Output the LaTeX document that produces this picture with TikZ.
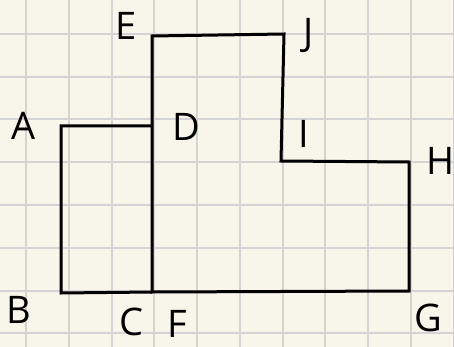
\documentclass[tikz,border=0pt]{standalone}
\usepackage{fontspec}
\setmainfont{Open Sans}
\definecolor{paper}{HTML}{F8F6EA}
\definecolor{gridline}{HTML}{D4D4D4}
\tikzset{
	side/.style={line width=3pt,line join=miter},
	lbl/.style={font=\fontsize{38}{38}\selectfont,inner sep=0pt}
}
\begin{document}
\begin{tikzpicture}[x=1pt,y=-1pt]
	\fill [paper] (0,0) rectangle (454,347);
	\useasboundingbox (0,0) rectangle (454,347);
	\foreach \k in {0,...,10}
		\draw [gridline,line width=2pt] (26+42.75*\k,0) -- (26+42.75*\k,347);
	\foreach \k in {-1,...,7}
		\draw [gridline,line width=2pt] (0,34+42.75*\k) -- (454,34+42.75*\k);
	\coordinate (pA) at (61,126);
	\coordinate (pB) at (61,293);
	\coordinate (pC) at (152,292);
	\coordinate (pD) at (152,126);
	\coordinate (pE) at (152,36);
	\coordinate (pF) at (152,292);
	\coordinate (pG) at (409,291);
	\coordinate (pH) at (409,162);
	\coordinate (pI) at (281,161);
	\coordinate (pJ) at (284,34);
	\draw [side] (pE) -- (pJ) -- (pI) -- (pH) -- (pG) -- (pF) -- cycle;
	\draw [side] (pD) -- (pA) -- (pB) -- (pC);
	\node (A) [lbl] at (24,126) {A};
	\node (B) [lbl] at (19,310) {B};
	\node (C) [lbl] at (131,322) {C};
	\node (D) [lbl] at (186,127) {D};
	\node (E) [lbl] at (126,26) {E};
	\node (F) [lbl] at (177,324) {F};
	\node (G) [lbl] at (428,318) {G};
	\node (H) [lbl] at (441,161) {H};
	\node (I) [lbl] at (304,134) {I};
	\node (J) [lbl] at (309,36) {J};
\end{tikzpicture}
\end{document}
